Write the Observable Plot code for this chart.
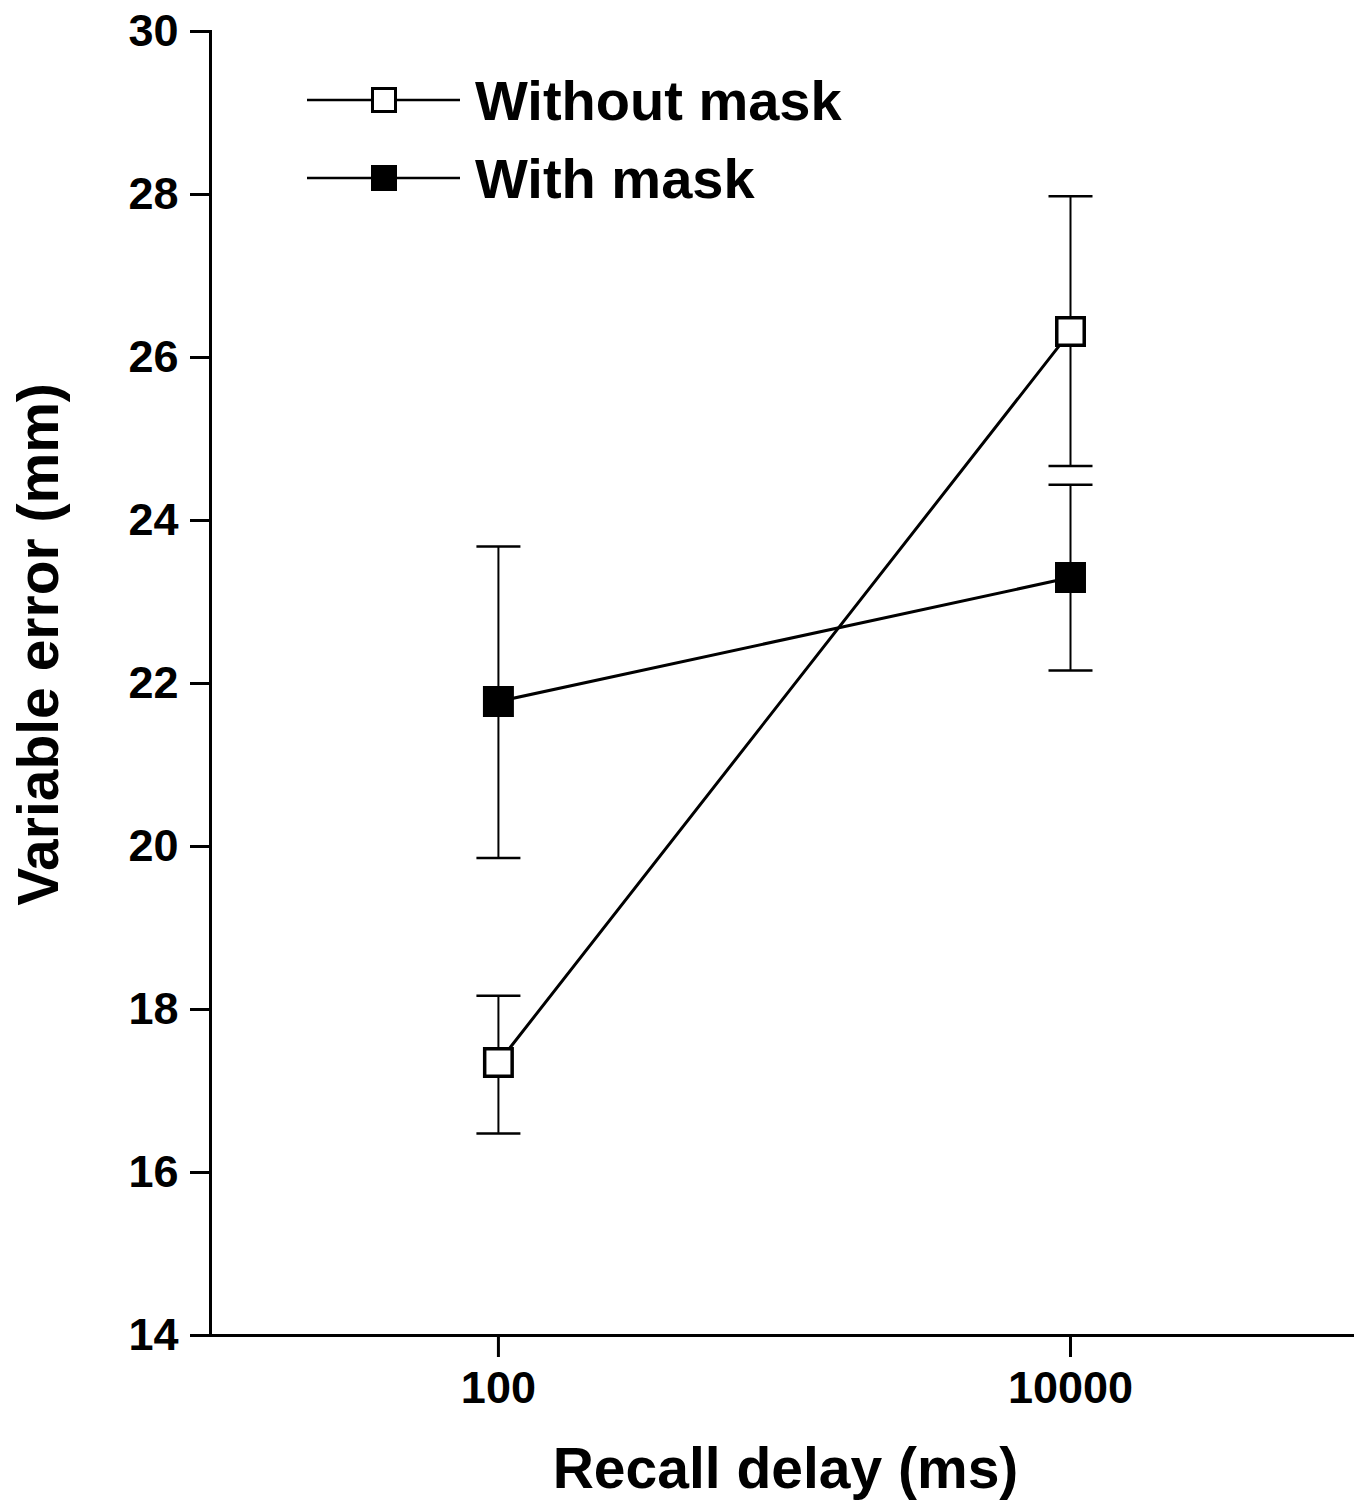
<!DOCTYPE html>
<html>
<head>
<meta charset="utf-8">
<script src="https://cdn.jsdelivr.net/npm/d3@7"></script>
<script src="https://cdn.jsdelivr.net/npm/@observablehq/plot@0.6"></script>
<style>
  html, body { margin: 0; padding: 0; background: #fff; }
  #wrap { position: relative; width: 1358px; height: 1511px; font-family: "Liberation Sans", Arial, sans-serif; }
  #legend { position: absolute; left: 0; top: 0; pointer-events: none; }
</style>
</head>
<body>
<div id="wrap"></div>
<script>
// ---- data ----
const delays = [100, 10000];                 // recall delay (ms)
const seriesNames = ["Without mask", "With mask"];
const withoutMaskMean = [17.35, 26.32];
const withoutMaskLow  = [16.48, 24.67];
const withoutMaskHigh = [18.17, 27.98];
const withMaskMean = [21.78, 23.30];
const withMaskLow  = [19.86, 22.16];
const withMaskHigh = [23.68, 24.44];
const yTicks = [14, 16, 18, 20, 22, 24, 26, 28, 30];
const xTicks = [100, 10000];
const xLabel = "Recall delay (ms)";
const yLabel = "Variable error (mm)";

// ---- table ----
const rows = [];
delays.forEach((d, i) => {
  rows.push({series: seriesNames[0], delay: d, mean: withoutMaskMean[i], low: withoutMaskLow[i], high: withoutMaskHigh[i]});
  rows.push({series: seriesNames[1], delay: d, mean: withMaskMean[i], low: withMaskLow[i], high: withMaskHigh[i]});
});

const capSymbol = {
  draw(ctx, size) {
    const r = Math.sqrt(size / Math.PI);
    ctx.moveTo(-r, 0);
    ctx.lineTo(r, 0);
  }
};

const font = '"Liberation Sans", Arial, sans-serif';

const chart = Plot.plot({
  width: 1358,
  height: 1511,
  marginLeft: 210,
  marginRight: 6,
  marginTop: 31,
  marginBottom: 176,
  style: {fontFamily: font, background: "#fff", color: "#000"},
  x: {type: "log", domain: [9.85, 96800]},
  y: {domain: [14, 30]},
  marks: [
    Plot.frame({anchor: "left", stroke: "#000", strokeWidth: 3}),
    Plot.frame({anchor: "bottom", stroke: "#000", strokeWidth: 3}),
    Plot.axisY({ticks: yTicks, tickSize: 20, tickPadding: 12, fontSize: 45, fontWeight: "bold", strokeWidth: 3, label: null}),
    Plot.axisX({ticks: xTicks, tickFormat: d => String(d), tickSize: 22, tickPadding: 14, fontSize: 45, fontWeight: "bold", strokeWidth: 3, label: null}),
    Plot.text([xLabel], {text: d => d, frameAnchor: "bottom", lineAnchor: "bottom", dx: 4, dy: 152, fontSize: 57, fontWeight: "bold", fill: "#000"}),
    Plot.text([yLabel], {text: d => d, frameAnchor: "left", textAnchor: "middle", rotate: -90, lineAnchor: "bottom", dx: -153, dy: -39, fontSize: 57, fontWeight: "bold", fill: "#000"}),
    // error bars
    Plot.ruleX(rows, {x: "delay", y1: "low", y2: "high", stroke: "#000", strokeWidth: 2}),
    Plot.dot(rows, {x: "delay", y: "low", symbol: capSymbol, r: 22, stroke: "#000", strokeWidth: 2.5, fill: "none"}),
    Plot.dot(rows, {x: "delay", y: "high", symbol: capSymbol, r: 22, stroke: "#000", strokeWidth: 2.5, fill: "none"}),
    // connecting lines
    Plot.line(rows, {x: "delay", y: "mean", z: "series", stroke: "#000", strokeWidth: 3}),
    // markers
    Plot.dot(rows, {x: "delay", y: "mean", symbol: "square", r: 15.5,
      fill: d => d.series === seriesNames[0] ? "#fff" : "#000",
      stroke: "#000", strokeWidth: 3.5})
  ]
});

const wrap = document.getElementById("wrap");
wrap.appendChild(chart);

// ---- legend overlay ----
const ns = "http://www.w3.org/2000/svg";
const leg = document.createElementNS(ns, "svg");
leg.setAttribute("id", "legend");
leg.setAttribute("width", 1358);
leg.setAttribute("height", 240);
const rowY = [100, 178];
seriesNames.forEach((name, i) => {
  const cy = rowY[i];
  const line = document.createElementNS(ns, "line");
  line.setAttribute("x1", 307); line.setAttribute("x2", 460);
  line.setAttribute("y1", cy); line.setAttribute("y2", cy);
  line.setAttribute("stroke", "#000"); line.setAttribute("stroke-width", 2.5);
  leg.appendChild(line);
  const sq = document.createElementNS(ns, "rect");
  const s = 23;
  sq.setAttribute("x", 384 - s / 2); sq.setAttribute("y", cy - s / 2);
  sq.setAttribute("width", s); sq.setAttribute("height", s);
  sq.setAttribute("fill", i === 0 ? "#fff" : "#000");
  sq.setAttribute("stroke", "#000"); sq.setAttribute("stroke-width", 3);
  leg.appendChild(sq);
  const t = document.createElementNS(ns, "text");
  t.setAttribute("x", 475); t.setAttribute("y", cy + 20);
  t.setAttribute("font-family", font);
  t.setAttribute("font-size", 56);
  t.setAttribute("font-weight", "bold");
  t.setAttribute("fill", "#000");
  t.textContent = name;
  leg.appendChild(t);
});
wrap.appendChild(leg);
</script>
</body>
</html>
